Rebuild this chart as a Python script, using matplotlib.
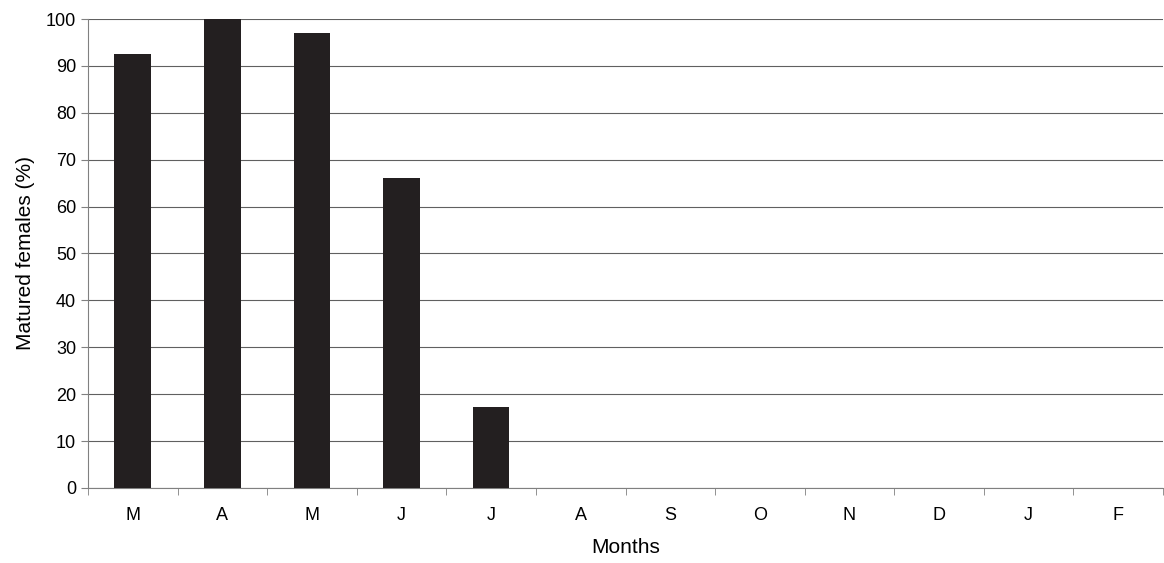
import matplotlib.pyplot as plt
import numpy as np

plt.rcParams['font.family'] = ['Liberation Sans', 'DejaVu Sans']

months = ['M', 'A', 'M', 'J', 'J', 'A', 'S', 'O', 'N', 'D', 'J', 'F']
matured = [92.5, 100, 97, 66, 17.3, 0, 0, 0, 0, 0, 0, 0]

fig = plt.figure(figsize=(11.64, 5.63), dpi=100)
ax = fig.add_axes([88 / 1164, 75 / 563, 1075 / 1164, 469 / 563])
x = np.arange(len(months))
ax.bar(x, matured, width=0.41, color='#231f20', zorder=3)
ax.set_xlim(-0.5, len(months) - 0.5)
ax.set_ylim(0, 100)
ax.set_yticks(range(0, 101, 10))
ax.yaxis.grid(True, color='#606060', linewidth=0.8)
ax.set_xticks(x)
ax.set_xticklabels(months, fontsize=13)
ax.set_xticks(np.arange(-0.5, len(months)), minor=True)
ax.tick_params(axis='x', which='major', length=0, pad=14)
ax.tick_params(axis='x', which='minor', length=5, color='#808080')
ax.tick_params(axis='y', labelsize=13, length=5, color='#808080')
for s in ['top', 'right']:
    ax.spines[s].set_visible(False)
for s in ['left', 'bottom']:
    ax.spines[s].set_color('#808080')
ax.set_xlabel('Months', fontsize=15, labelpad=10)
ax.set_ylabel('Matured females (%)', fontsize=15, labelpad=8)
fig.savefig('out.png', dpi=100)
